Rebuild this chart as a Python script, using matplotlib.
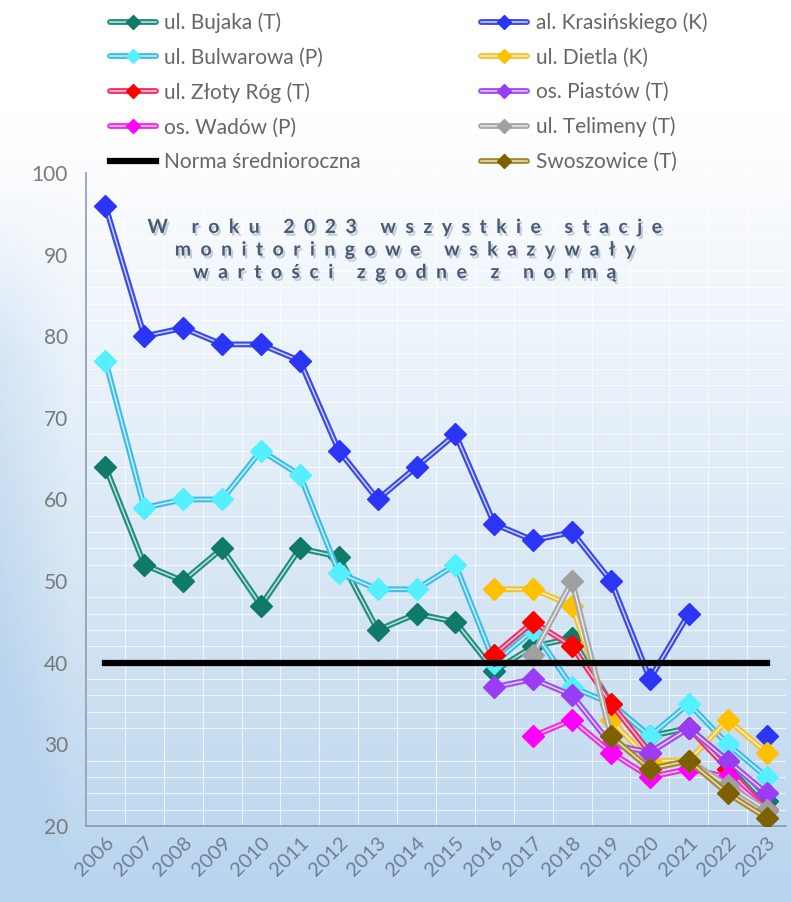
import numpy as np
import matplotlib
matplotlib.use("Agg")
import matplotlib.pyplot as plt
import matplotlib.patheffects as pe

plt.rcParams['font.family'] = ['Lato', 'DejaVu Sans']

nan = np.nan
years = [str(y) for y in range(2006, 2024)]

# station series (ug/m3)
bujaka = [64, 52, 50, 54, 47, 54, 53, 44, 46, 45, 39, 42, 43, 35, 31, 32, 28, 23]
krasinskiego = [96, 80, 81, 79, 79, 77, 66, 60, 64, 68, 57, 55, 56, 50, 38, 46, nan, 31]
bulwarowa = [77, 59, 60, 60, 66, 63, 51, 49, 49, 52, 40, 44, 37, 35, 31, 35, 30, 26]
dietla = [nan] * 10 + [49, 49, 47, 33, 28, 28, 33, 29]
zloty_rog = [nan] * 10 + [41, 45, 42, 35, 29, 32, 27, 22]
piastow = [nan] * 10 + [37, 38, 36, 30, 29, 32, 28, 24]
wadow = [nan] * 11 + [31, 33, 29, 26, 27, 26, 22]
telimeny = [nan] * 11 + [41, 50, 31, 27, 28, 25, 22]
swoszowice = [nan] * 13 + [31, 27, 28, 24, 21]
norma = [40] * 18

# (label, values, line colour, marker colour)
series = [
    ("ul. Bujaka (T)", bujaka, "#1f9080", "#0f7a6a"),
    ("al. Krasińskiego (K)", krasinskiego, "#3a4ae8", "#2a35f5"),
    ("ul. Bulwarowa (P)", bulwarowa, "#3cbfe6", "#55f0ff"),
    ("ul. Dietla (K)", dietla, "#f5c232", "#ffc000"),
    ("ul. Złoty Róg (T)", zloty_rog, "#f0306a", "#ff0000"),
    ("os. Piastów (T)", piastow, "#a050f0", "#9b3cf5"),
    ("os. Wadów (P)", wadow, "#f030e0", "#ff00ff"),
    ("ul. Telimeny (T)", telimeny, "#a8a8a8", "#a0a0a0"),
    ("Swoszowice (T)", swoszowice, "#a88a28", "#7f6000"),
]

fig = plt.figure(figsize=(7.91, 9.02), dpi=100)

# background gradient over the whole figure (white top, light blue bottom)
bg = fig.add_axes([0, 0, 1, 1], zorder=-10)
gy = np.linspace(0, 1, 256)[:, None]
gx = np.linspace(0, 1, 256)[None, :]
top = np.array([1.0, 1.0, 1.0])
bot = np.array([0.72, 0.83, 0.93])
w = np.clip((gy - 0.12) / 0.88, 0, 1) ** 1.1
edge = np.clip(1 - gx / 0.09, 0, 1) * np.clip((gy - 0.2) / 0.2, 0, 1)
w = np.clip(w + 0.3 * edge, 0, 1)
img = top * (1 - w[..., None]) + bot * w[..., None]
bg.imshow(img, aspect='auto', extent=[0, 1, 0, 1], origin='upper')
bg.axis('off')

ax = fig.add_axes([0.1087, 0.0843, 0.885, 0.7239])
ax.set_facecolor('none')
x = np.arange(len(years))

handles = {}
for i, (lab, vals, lc, mc) in enumerate(series):
    v = np.array(vals, dtype=float)
    l1, = ax.plot(x, v, color=lc, lw=4.2, solid_capstyle='round', zorder=3 + i)
    l2, = ax.plot(x, v, color='white', lw=1.1, alpha=0.75, zorder=3 + i)
    ax.plot(x, v, ls='none', marker='D', ms=11, color=mc, zorder=3 + i)
    handles[lab] = (l1, l2, ax.plot([], [], ls='none', marker='D', ms=7, color=mc)[0])
    if lab == "ul. Telimeny (T)":
        n, = ax.plot(x, norma, color='black', lw=4.5, zorder=11)
        handles["Norma średnioroczna"] = n

ax.set_xlim(-0.5, len(years) - 0.5)
ax.set_ylim(20, 100)
ax.set_yticks(range(20, 101, 10))
ax.set_xticks(x)
ax.set_xticklabels(years, rotation=45, ha='right', rotation_mode='anchor')
ax.tick_params(axis='y', length=0, labelsize=15, labelcolor='#7a7a7a', pad=13)
ax.tick_params(axis='x', length=0, labelsize=14.5, labelcolor='#6b7f95', pad=6)

ax.set_xticks(np.arange(-0.5, len(years), 1), minor=True)
ax.set_yticks(np.arange(20, 101, 2), minor=True)
ax.tick_params(which='minor', length=0)
ax.grid(which='minor', color='white', lw=0.8, alpha=0.7, zorder=0)
ax.grid(which='major', visible=False)
for s in ['top', 'right']:
    ax.spines[s].set_visible(False)
ax.spines['left'].set_color('#8a9cb0')
ax.spines['bottom'].set_color('#7f99b3')
ax.spines['left'].set_linewidth(1.2)
ax.spines['bottom'].set_linewidth(1.2)

order = ["ul. Bujaka (T)", "ul. Bulwarowa (P)", "ul. Złoty Róg (T)", "os. Wadów (P)",
         "Norma średnioroczna", "al. Krasińskiego (K)", "ul. Dietla (K)",
         "os. Piastów (T)", "ul. Telimeny (T)", "Swoszowice (T)"]
leg = fig.legend([handles[k] for k in order], order, loc='upper left',
                 bbox_to_anchor=(0.115, 1.007), ncol=2, frameon=False,
                 fontsize=15, handlelength=2.2, handletextpad=0.4,
                 labelspacing=0.7, columnspacing=5.8)
for t in leg.get_texts():
    t.set_color('#666666')


def spaced(s):
    return "     ".join("  ".join(word) for word in s.split(" "))


note = "\n".join(spaced(s) for s in ["W roku 2023 wszystkie stacje",
                                     "monitoringowe wskazywały",
                                     "wartości zgodne z normą"])
ax.text(0.457, 0.882, note, transform=ax.transAxes, ha='center', va='center',
        fontsize=14, fontweight='bold', color='#4a5a75', linespacing=1.4,
        path_effects=[pe.withSimplePatchShadow(offset=(1.5, -2), shadow_rgbFace='#7a8aa0', alpha=0.4)],
        zorder=20)

fig.savefig('out.png', dpi=100)
